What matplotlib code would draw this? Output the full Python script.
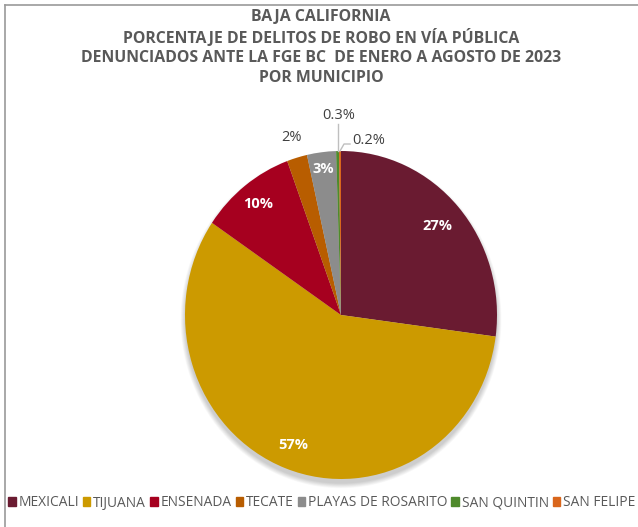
import matplotlib
matplotlib.use("Agg")
import matplotlib.pyplot as plt
import numpy as np
from matplotlib.patches import Ellipse, Rectangle
from matplotlib.lines import Line2D

# ---- data ----
municipios = ["MEXICALI", "TIJUANA", "ENSENADA", "TECATE", "PLAYAS DE ROSARITO",
              "SAN QUINTIN", "SAN FELIPE"]
valores = [27.1, 57.4, 9.9, 2.1, 3.0, 0.3, 0.2]
etiquetas = ["27%", "57%", "10%", "2%", "3%", "0.3%", "0.2%"]
colores = ["#6A1B31", "#CC9A00", "#A6001F", "#B85D00", "#8C8C8C", "#4F8A2C", "#D9661C"]
titulo = ("BAJA CALIFORNIA\nPORCENTAJE DE DELITOS DE ROBO EN VÍA PÚBLICA\n"
          "DENUNCIADOS ANTE LA FGE BC  DE ENERO A AGOSTO DE 2023\nPOR MUNICIPIO")

W, H = 638, 527
S = 164 / 156  # vertical stretch of the original picture
fig = plt.figure(figsize=(W / 100, H / 100), dpi=100)
fig.patch.set_facecolor("white")
ax = fig.add_axes([0, 0, 1, 1])

cx, cy, R = 341, (H - 315) / S, 156

# soft shadow
for i in range(10):
    ax.add_patch(Ellipse((cx, cy - 4.5 / S), 2 * (R + i * 0.5), 2 * (R + i * 0.5),
                         color="black", alpha=0.018, lw=0, zorder=1))

wedges, _ = ax.pie(valores, colors=colores, startangle=90, counterclock=False,
                   center=(cx, cy), radius=R, frame=True,
                   wedgeprops=dict(linewidth=0, zorder=2))
ax.set_aspect("auto")
ax.set_xlim(0, W)
ax.set_ylim(0, H / S)
ax.axis("off")

font = "Open Sans"

def mid_angle(w):
    return np.deg2rad((w.theta1 + w.theta2) / 2)

inside = {0: 0.82, 1: 0.85, 2: 0.86, 4: 0.90}
for i, f in inside.items():
    a = mid_angle(wedges[i])
    ax.text(cx + f * R * np.cos(a), cy + f * R * np.sin(a), etiquetas[i],
            ha="center", va="center", color="white", fontsize=10.5,
            fontweight="bold", family=font, zorder=5)

# Tecate outside label
a = mid_angle(wedges[3])
ax.text(cx + 1.13 * R * np.cos(a), cy + 1.13 * R * np.sin(a), etiquetas[3],
        ha="center", va="center", color="#404040", fontsize=10.5, family=font)

# San Quintin label with vertical leader
a = mid_angle(wedges[5])
px, py = cx + R * np.cos(a), cy + R * np.sin(a)
ax.add_line(Line2D([px, px], [py, py + 27 / S], color="#BFBFBF", lw=1, zorder=3))
ax.text(px + 1, py + 36 / S, etiquetas[5], ha="center", va="center",
        color="#404040", fontsize=10.5, family=font)

# San Felipe label with bent leader
a = mid_angle(wedges[6])
px, py = cx + R * np.cos(a), cy + R * np.sin(a)
ax.add_line(Line2D([px, px + 4, px + 10], [py, py + 7 / S, py + 7 / S],
                   color="#BFBFBF", lw=1, zorder=3))
ax.text(px + 12, py + 11 / S, etiquetas[6], ha="left", va="center",
        color="#404040", fontsize=10.5, family=font)

# title
fig.text(0.503, 1 - 47.5 / H, titulo, ha="center", va="center", fontsize=11.4,
         fontweight="bold", color="#595959", family=font, linespacing=1.27)

# border (chart area cut by the image)
fig.add_artist(Line2D([5 / W, 5 / W], [0, 1 - 5 / H], transform=fig.transFigure,
                      color="#9A9A9A", lw=1.2))
fig.add_artist(Line2D([5 / W, 1], [1 - 5 / H, 1 - 5 / H], transform=fig.transFigure,
                      color="#9A9A9A", lw=1.2))

# legend
handles = [Rectangle((0, 0), 1, 1, color=c) for c in colores]
fig.legend(handles, municipios, loc="center left", bbox_to_anchor=(8 / W, 1 - 503 / H),
           ncol=len(municipios), frameon=False, handlelength=0.55, handleheight=0.55,
           handletextpad=0.2, columnspacing=0.29, borderaxespad=0, borderpad=0,
           prop=dict(family=font, size=9.9), labelcolor="#595959")

fig.savefig("out.png", dpi=100, facecolor="white")
